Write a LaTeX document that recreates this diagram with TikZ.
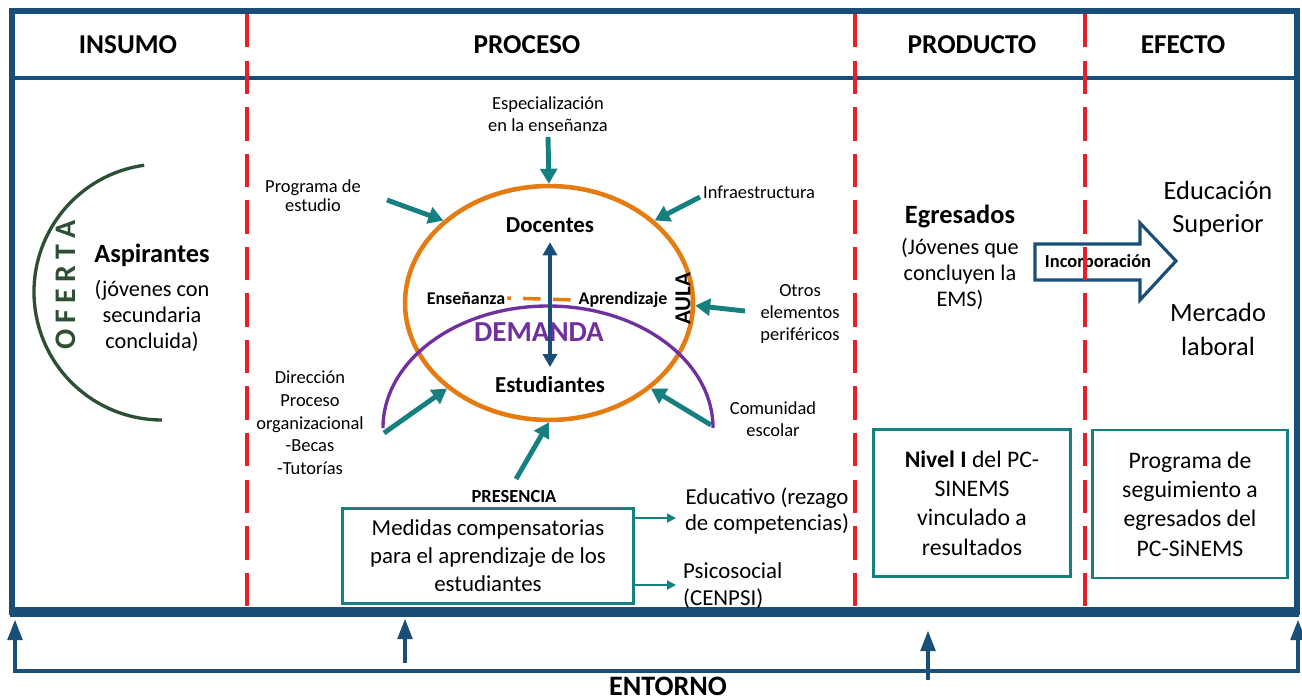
\documentclass[tikz,border=0pt]{standalone}
\usepackage{fontspec}
\setmainfont{Carlito}
\usetikzlibrary{arrows.meta}
\usetikzlibrary{shapes.geometric}
\usetikzlibrary{positioning}

\definecolor{marco}{RGB}{24,78,120}
\definecolor{verdeazul}{RGB}{22,128,128}
\definecolor{naranja}{RGB}{228,124,18}
\definecolor{morado}{RGB}{112,48,160}
\definecolor{rojo}{RGB}{228,32,40}
\definecolor{verde}{RGB}{45,80,50}

\tikzset{
  titulo/.style={font=\fontsize{15.5}{18}\selectfont\bfseries},
  chico/.style={font=\fontsize{10.5}{12.6}\selectfont, align=center},
  medio/.style={font=\fontsize{12.7}{14.8}\selectfont, align=center},
  grande/.style={font=\fontsize{15}{19.3}\selectfont, align=center},
  flecha/.style={verdeazul, line width=2.8pt, -{Triangle[length=8.5pt,width=9.5pt]}},
  flechita/.style={verdeazul, line width=1.1pt, -{Triangle[length=5pt,width=5pt]}},
  caja/.style={draw=verdeazul, line width=1.3pt, align=center, inner sep=0pt},
  divisor/.style={rojo, line width=2.2pt, dash pattern=on 19pt off 7.5pt},
  entorno/.style={marco, line width=2.8pt, -{Triangle[length=12pt,width=8pt]}}
}

\begin{document}
\begin{tikzpicture}[x=0.02cm,y=-0.02cm]
  \useasboundingbox (0,0) rectangle (1302,700);

  \draw[marco, line width=3.8pt] (12,11) rectangle (1297,612);
  \draw[marco, line width=5.6pt] (10,612) -- (1299,612);
  \draw[marco, line width=2pt] (12,78) -- (1297,78);

  \node[titulo] (insumo) at (128,45) {INSUMO};
  \node[titulo] (proceso) at (527,45) {PROCESO};
  \node[titulo] (producto) at (972,45) {PRODUCTO};
  \node[titulo] (efecto) at (1183,45) {EFECTO};

  % insumo
  \draw[verde, line width=1.9pt] (162,292) ++(262:128) arc[start angle=262, end angle=90, radius=128];
  \node[rotate=90, text=verde, font=\fontsize{17}{19}\selectfont\bfseries] (oferta) at (66,285)
    {O\hspace{3.5pt}F\hspace{3.5pt}E\hspace{3.5pt}R\hspace{3.5pt}T\hspace{3.5pt}A};
  \node[font=\fontsize{15}{18}\selectfont\bfseries] (asp) at (152,255) {Aspirantes};
  \node[medio] (aspdesc) at (152,316) {(jóvenes con\\secundaria\\concluida)};

  % proceso
  \node[ellipse, draw=naranja, line width=2.6pt, minimum width=5.76cm, minimum height=4.68cm,
    inner sep=0pt] (aula) at (549,303) {};
  \draw[morado, line width=1.9pt] (383,428) arc[start angle=180, end angle=360, x radius=165, y radius=122];

  \node[font=\fontsize{13}{15}\selectfont\bfseries] (doc) at (550,225) {Docentes};
  \node[font=\fontsize{13}{15}\selectfont\bfseries] (est) at (550,385) {Estudiantes};
  \node[font=\fontsize{10.2}{12}\selectfont\bfseries, inner xsep=1pt] (ens) at (466,298) {Enseñanza};
  \node[font=\fontsize{10.2}{12}\selectfont\bfseries, inner xsep=1pt] (apr) at (623,300) {Aprendizaje};
  \node[font=\fontsize{16.5}{19}\selectfont\bfseries, text=morado] (demanda) at (539,332) {DEMANDA};
  \node[rotate=90, font=\fontsize{13}{15}\selectfont\bfseries] (aulatxt) at (683,299) {AULA};

  \draw[naranja, line width=2pt, dash pattern=on 10pt off 7pt, dash phase=8pt] (ens.east) -- (apr.west);
  \draw[marco, line width=2.6pt, {Triangle[length=7.5pt,width=8pt]}-{Triangle[length=7.5pt,width=8pt]},
    shorten <=2pt, shorten >=2pt] (doc) -- (est);

  \node[chico] (esp) at (548,114) {Especialización\\en la enseñanza};
  \node[chico, font=\fontsize{10.5}{10.8}\selectfont] (prog) at (313,196) {Programa de\\estudio};
  \node[chico] (infra) at (759,192) {Infraestructura};
  \node[chico] (otros) at (800,314) {Otros\\elementos\\periféricos};
  \node[chico, font=\fontsize{10.5}{12.9}\selectfont] (dir) at (310,423)
    {Dirección\\Proceso\\organizacional\\-Becas\\-Tutorías};
  \node[chico] (comun) at (773,419) {Comunidad\\escolar};
  \node[font=\fontsize{10.5}{12}\selectfont\bfseries] (presencia) at (514,497) {PRESENCIA};

  \coordinate (aesp) at (548,137);
  \coordinate (aprog) at (387,200);
  \coordinate (ainfra) at (700,197);
  \coordinate (aotros) at (745,311);
  \coordinate (adir) at (384,433);
  \coordinate (acomun) at (711,425);
  \coordinate (apres) at (516,479);

  \draw[flecha] (aesp) -- (aula.90);
  \draw[flecha] (aprog) -- (aula.142);
  \draw[flecha] (ainfra) -- (aula.38);
  \draw[flecha] (aotros) -- (aula.-1);
  \draw[flecha] (adir) -- (aula.220);
  \draw[flecha] (acomun) -- (aula.320);
  \draw[flecha] (apres) -- (aula.270);

  \node[caja, font=\fontsize{13}{16}\selectfont, minimum width=5.82cm, minimum height=1.9cm] (medidas)
    at (488,556) {Medidas compensatorias\\para el aprendizaje de los\\estudiantes};
  \node[font=\fontsize{13}{15.3}\selectfont, align=center] (educ) at (767,511)
    {Educativo (rezago\\de competencias)};
  \node[font=\fontsize{13}{15.3}\selectfont, align=left, anchor=west] (psico) at (677,586)
    {Psicosocial\\(CENPSI)};
  \coordinate (aedu) at (676,518);
  \coordinate (apsi) at (676,585);
  \draw[flechita] (medidas.east |- aedu) -- (aedu);
  \draw[flechita] (medidas.east |- apsi) -- (apsi);

  % producto y efecto
  \node[font=\fontsize{15}{18}\selectfont\bfseries] (egr) at (960,216) {Egresados};
  \node[medio] (egrdesc) at (960,274) {(Jóvenes que\\concluyen la\\EMS)};

  \draw[marco, line width=1.8pt, line join=miter] (1035,244) -- (1140,244) -- (1140,223) -- (1176,261)
    -- (1140,300) -- (1140,280) -- (1035,280) -- cycle;
  \node[font=\fontsize{10.5}{12}\selectfont\bfseries] (incorp) at (1098,262) {Incorporación};

  \node[grande] (edsup) at (1218,209) {Educación\\Superior};
  \node[grande] (mercado) at (1218,329) {Mercado\\laboral};

  \node[caja, font=\fontsize{13.5}{16.7}\selectfont, minimum width=3.94cm, minimum height=2.94cm] (nivel)
    at (972,503) {\textbf{Nivel I} del PC-\\SINEMS\\vinculado a\\resultados};
  \node[caja, font=\fontsize{13.5}{16.7}\selectfont, minimum width=3.9cm, minimum height=2.96cm] (seguim)
    at (1190,504) {Programa de\\seguimiento a\\egresados del\\PC-SiNEMS};

  \draw[divisor] (247,14) -- (247,609);
  \draw[divisor] (855,14) -- (855,609);
  \draw[divisor] (1085,14) -- (1085,609);

  % entorno
  \coordinate (izqtop) at (15,619);
  \coordinate (izq) at (15,671);
  \coordinate (der) at (1298,671);
  \coordinate (dertop) at (1298,619);
  \coordinate (m1) at (405,663);
  \coordinate (m1top) at (405,618);
  \coordinate (m2) at (928,680);
  \coordinate (m2top) at (928,630);
  \draw[entorno, {Triangle[length=12pt,width=8pt]}-{Triangle[length=12pt,width=8pt]}, line join=miter]
    (izqtop) -- (izq) -- (der) -- (dertop);
  \draw[entorno] (m1) -- (m1top);
  \draw[entorno] (m2) -- (m2top);
  \node[font=\fontsize{16}{19}\selectfont\bfseries] (ent) at (668,686) {ENTORNO};
\end{tikzpicture}
\end{document}
